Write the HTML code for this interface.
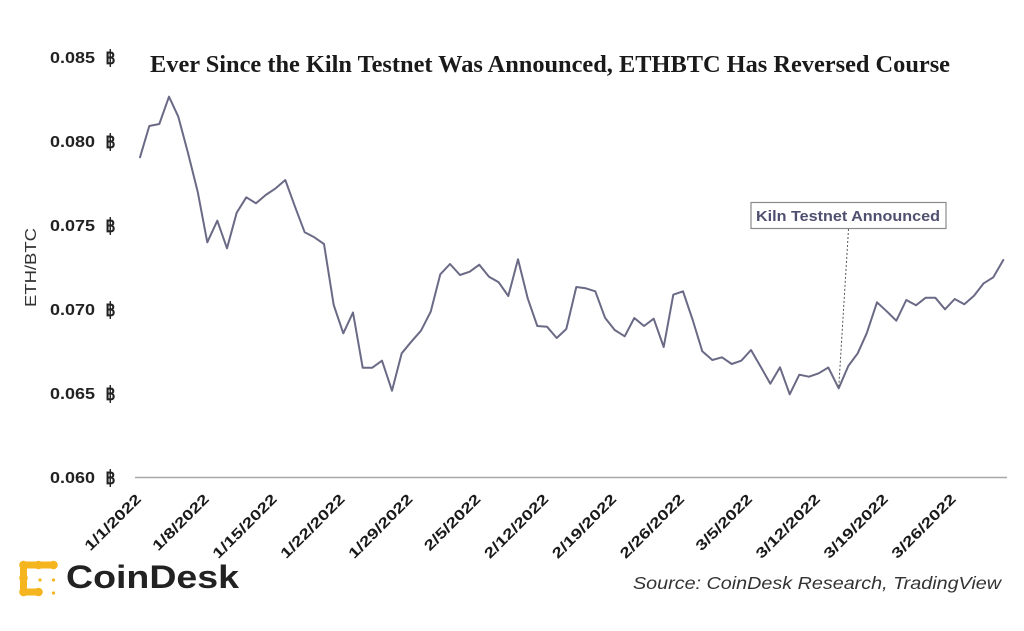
<!DOCTYPE html>
<html>
<head>
<meta charset="utf-8">
<style>
html,body{margin:0;padding:0;background:#fff;}
svg{display:block;}
</style>
</head>
<body>
<svg width="1024" height="631" viewBox="0 0 1024 631" xmlns="http://www.w3.org/2000/svg">
<rect width="1024" height="631" fill="#fff"/>

<!-- Title -->
<text x="150" y="72" font-family="Liberation Serif, serif" font-weight="bold" font-size="24" fill="#1a1a1a" textLength="800" lengthAdjust="spacingAndGlyphs">Ever Since the Kiln Testnet Was Announced, ETHBTC Has Reversed Course</text>

<!-- Y axis labels -->
<g font-family="Liberation Sans, DejaVu Sans, sans-serif" font-weight="bold" font-size="16" fill="#222">
  <text x="50" y="63" textLength="45" lengthAdjust="spacingAndGlyphs">0.085</text>
  <text x="50" y="147" textLength="45" lengthAdjust="spacingAndGlyphs">0.080</text>
  <text x="50" y="231" textLength="45" lengthAdjust="spacingAndGlyphs">0.075</text>
  <text x="50" y="315" textLength="45" lengthAdjust="spacingAndGlyphs">0.070</text>
  <text x="50" y="399" textLength="45" lengthAdjust="spacingAndGlyphs">0.065</text>
  <text x="50" y="483" textLength="45" lengthAdjust="spacingAndGlyphs">0.060</text>
</g>
<g font-family="DejaVu Sans, sans-serif" font-size="19" fill="#222" stroke="#222" stroke-width="0.7">
  <text x="105.5" y="64" textLength="10" lengthAdjust="spacingAndGlyphs">฿</text>
  <text x="105.5" y="148" textLength="10" lengthAdjust="spacingAndGlyphs">฿</text>
  <text x="105.5" y="232" textLength="10" lengthAdjust="spacingAndGlyphs">฿</text>
  <text x="105.5" y="316" textLength="10" lengthAdjust="spacingAndGlyphs">฿</text>
  <text x="105.5" y="400" textLength="10" lengthAdjust="spacingAndGlyphs">฿</text>
  <text x="105.5" y="484" textLength="10" lengthAdjust="spacingAndGlyphs">฿</text>
</g>

<!-- Y axis title -->
<text transform="translate(36,307) rotate(-90)" x="0" y="0" font-family="Liberation Sans, sans-serif" font-size="16" fill="#333" textLength="79" lengthAdjust="spacingAndGlyphs">ETH/BTC</text>

<!-- X axis line -->
<line x1="135" y1="477.5" x2="1007" y2="477.5" stroke="#a8a8a8" stroke-width="1.5"/>

<!-- X tick labels -->
<g font-family="Liberation Sans, sans-serif" font-weight="bold" font-size="14.5" fill="#1a1a1a" text-anchor="end">
  <text transform="translate(142,500) rotate(-45)" textLength="73" lengthAdjust="spacingAndGlyphs">1/1/2022</text>
  <text transform="translate(209.9,500) rotate(-45)" textLength="73" lengthAdjust="spacingAndGlyphs">1/8/2022</text>
  <text transform="translate(277.8,500) rotate(-45)" textLength="84" lengthAdjust="spacingAndGlyphs">1/15/2022</text>
  <text transform="translate(345.7,500) rotate(-45)" textLength="84" lengthAdjust="spacingAndGlyphs">1/22/2022</text>
  <text transform="translate(413.6,500) rotate(-45)" textLength="84" lengthAdjust="spacingAndGlyphs">1/29/2022</text>
  <text transform="translate(481.5,500) rotate(-45)" textLength="73" lengthAdjust="spacingAndGlyphs">2/5/2022</text>
  <text transform="translate(549.4,500) rotate(-45)" textLength="84" lengthAdjust="spacingAndGlyphs">2/12/2022</text>
  <text transform="translate(617.3,500) rotate(-45)" textLength="84" lengthAdjust="spacingAndGlyphs">2/19/2022</text>
  <text transform="translate(685.2,500) rotate(-45)" textLength="84" lengthAdjust="spacingAndGlyphs">2/26/2022</text>
  <text transform="translate(753.1,500) rotate(-45)" textLength="73" lengthAdjust="spacingAndGlyphs">3/5/2022</text>
  <text transform="translate(821,500) rotate(-45)" textLength="84" lengthAdjust="spacingAndGlyphs">3/12/2022</text>
  <text transform="translate(888.9,500) rotate(-45)" textLength="84" lengthAdjust="spacingAndGlyphs">3/19/2022</text>
  <text transform="translate(956.8,500) rotate(-45)" textLength="84" lengthAdjust="spacingAndGlyphs">3/26/2022</text>
</g>

<!-- Data line -->
<polyline fill="none" stroke="#6a6a86" stroke-width="2" stroke-linejoin="round" stroke-linecap="round" points="
140,157.3 149.3,126 159.3,124 169,96.7 178.3,116.7 188,153 197.7,191.7 207.3,242.3 217.3,220.7 227,248.3
236.7,212.7 246.3,197.3 256,203.3 265.7,195 275.7,188.3 285.3,180 295,206.7 304.7,232.3 314.3,237.3 324,244
333.7,305 343.3,333.3 353,312.5 362.7,367.7 372.3,367.7 382,360.7 392,390.7 401.7,353.3 411.3,341.7 421,330.7
430.7,311.7 440.3,274.3 450,264 460,275 469.7,271.7 479.3,264.7 489,276.7 498.7,282.3 508.3,296 518,259.3
527.7,298.3 537.3,326 547,326.7 556.7,338 566.3,329 576.3,287 585.7,288.3 595.3,291.3 605,317.7 614.7,330
624.7,336.3 634.3,318 644,326 653.7,318.7 663.7,347 673.3,294.7 683,291.3 692.7,320 702.3,351.3 712.3,360
722,357.3 731.7,364 741.3,360.7 751,350 760.7,366.7 770.3,383.7 780,367.3 789.7,394.3 799.3,374.7 809,376.7
818.7,373.3 828.3,367.5 838.7,388.3 848.3,366 857.7,353.3 866.7,333.3 877,302.3 886.7,311.3 896.3,320.7 906.3,300
916,305.3 925.7,297.7 935.3,297.7 945,309.3 954.7,299 964.3,304.3 974,295.7 983.7,283.3 993.3,277.3 1003.3,260"/>

<!-- Annotation -->
<line x1="848.5" y1="229" x2="838.7" y2="388" stroke="#555" stroke-width="1" stroke-dasharray="2,2"/>
<rect x="751" y="202.5" width="195" height="26" fill="#fff" stroke="#8a8a8a" stroke-width="1.2"/>
<text x="756" y="221" font-family="Liberation Sans, sans-serif" font-weight="bold" font-size="15" fill="#4f4f70" textLength="184" lengthAdjust="spacingAndGlyphs">Kiln Testnet Announced</text>

<!-- Source -->
<text x="633" y="589" font-family="Liberation Sans, sans-serif" font-style="italic" font-size="17.5" fill="#333" textLength="368" lengthAdjust="spacingAndGlyphs">Source: CoinDesk Research, TradingView</text>

<!-- CoinDesk logo -->
<g fill="#f4b51f" stroke="#f4b51f">
  <path d="M23.5,565 L53.5,565 M23.5,565 L23.5,592 L38.5,592" fill="none" stroke-width="7" stroke-linecap="round" stroke-linejoin="round"/>
  <circle cx="23.5" cy="565" r="4.3" stroke="none"/>
  <circle cx="38.5" cy="565" r="4.3" stroke="none"/>
  <circle cx="53.5" cy="565" r="4.3" stroke="none"/>
  <circle cx="23.5" cy="578" r="4.3" stroke="none"/>
  <circle cx="23.5" cy="592" r="4.3" stroke="none"/>
  <circle cx="38.5" cy="592" r="4.3" stroke="none"/>
  <circle cx="40" cy="580" r="1.6" stroke="none"/>
  <circle cx="53.5" cy="580" r="1.6" stroke="none"/>
  <circle cx="53.5" cy="593" r="1.6" stroke="none"/>
</g>
<text x="66" y="588" font-family="Liberation Sans, sans-serif" font-weight="bold" font-size="32" fill="#222" textLength="173" lengthAdjust="spacingAndGlyphs">CoinDesk</text>
</svg>
</body>
</html>
